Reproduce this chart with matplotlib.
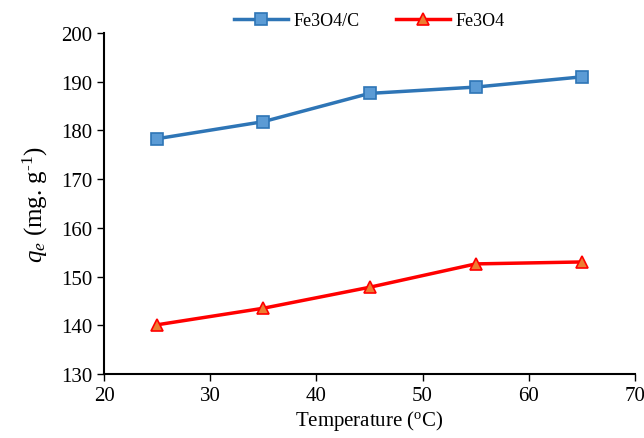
import matplotlib
matplotlib.use('Agg')
import matplotlib.pyplot as plt

temps = [25, 35, 45, 55, 65]
qe_fe3o4_c = [178.3, 181.8, 187.6, 188.9, 191.0]
qe_fe3o4 = [140.1, 143.5, 147.8, 152.6, 153.0]

plt.rcParams['font.family'] = ['Liberation Serif', 'DejaVu Serif']
plt.rcParams['mathtext.fontset'] = 'custom'
plt.rcParams['mathtext.rm'] = 'Liberation Serif'
plt.rcParams['mathtext.it'] = 'Liberation Serif:italic'

fig = plt.figure(figsize=(6.44, 4.39), dpi=100)
ax = fig.add_axes([104/644, 1-375/439, (635-104)/644, (375-34)/439])

ax.plot(temps, qe_fe3o4_c, color='#2e75b6', lw=2.5, marker='s', ms=8,
        mfc='#5b9bd5', mec='#2e75b6', mew=1.2, label='Fe3O4/C')
ax.plot(temps, qe_fe3o4, color='#ff0000', lw=2.5, marker='^', ms=8,
        mfc='#ed7d31', mec='#ff0000', mew=1.2, label='Fe3O4')

ax.set_xlim(20, 70)
ax.set_ylim(130, 200)
ax.set_xticks(range(20, 71, 10))
ax.set_yticks(range(130, 201, 10))
ax.spines['top'].set_visible(False)
ax.spines['right'].set_visible(False)
ax.spines['left'].set_linewidth(1.5)
ax.spines['bottom'].set_linewidth(1.5)
ax.tick_params(direction='out', length=5, width=1, labelsize=15)

ax.set_xlabel('Temperature ($\\mathrm{^{o}}$C)', fontsize=15, labelpad=2)
ax.set_ylabel('$q_e$ (mg. g$\\mathrm{^{\\text{-}1}}$)', fontsize=18, labelpad=8)

ax.legend(loc='lower center', bbox_to_anchor=(0.5, 0.985), ncol=2, frameon=False,
          fontsize=13, handlelength=3, columnspacing=2.0, handletextpad=0.3,
          borderaxespad=0.1)

fig.savefig('out.png', dpi=100)
